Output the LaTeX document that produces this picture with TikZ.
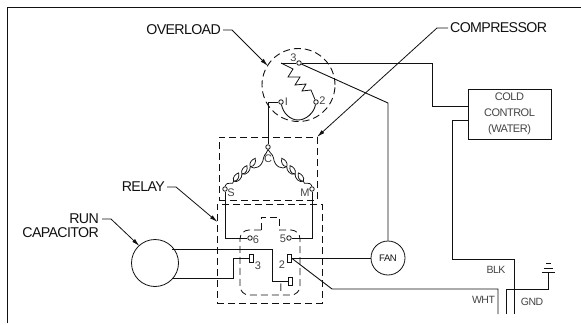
\documentclass[tikz,border=0pt]{standalone}
\usepackage{fontspec}
\setmainfont{Liberation Sans}[LetterSpace=-4.5]
\usetikzlibrary{arrows.meta,calc}
\definecolor{ink}{HTML}{111111}
\definecolor{soft}{HTML}{444444}
\tikzset{
  wire/.style={draw=ink,line width=0.9pt},
  coilwire/.style={draw=ink,line width=0.75pt},
  dash box/.style={draw=ink,line width=0.9pt,dash pattern=on 7pt off 4pt},
  leader/.style={draw=ink,line width=0.8pt,-{Latex[length=8pt,width=4pt]}},
  term/.style={circle,draw=ink,fill=white,line width=0.8pt,inner sep=0pt,minimum size=4.5pt},
  tab/.style={rectangle,draw=ink,fill=white,line width=0.8pt,inner sep=0pt,minimum width=4pt,minimum height=8pt},
  callout/.style={font=\fontsize{14.2}{15}\selectfont,text=ink,inner sep=0pt},
  small/.style={font=\fontsize{11}{12}\selectfont,text=soft,inner sep=0pt},
  tiny/.style={font=\fontsize{10.5}{11}\selectfont,text=soft,inner sep=0pt},
}
\begin{document}
\begin{tikzpicture}[x=1pt,y=-1pt]
\useasboundingbox (0,0) rectangle (581,324);
% frame
\coordinate (f1) at (7.5,323);\coordinate (f2) at (7.5,7.5);\coordinate (f3) at (581,7.5);
\draw[draw=ink,line width=1pt] (f1) -- (f2) -- (f3);
% dashed outlines
\node[circle,dash box,minimum size=73pt,inner sep=0pt] (ovl) at (298.5,85) {};
\node[rectangle,dash box,minimum width=98pt,minimum height=63pt,inner sep=0pt] (cmp) at (268,168.5) {};
\node[rectangle,dash box,minimum width=105pt,minimum height=99pt,inner sep=0pt] (rly) at (269.5,253.5) {};
\draw[dash box,line width=0.8pt,rounded corners=9pt] (261,230) -- (240,230) -- (240,295) -- (300,295) -- (300,230) -- (279,230);
\draw[dash box,line width=0.8pt] (261,230) -- (261,217) -- (279,217) -- (279,230);
% components
\node[rectangle,draw=ink,line width=0.9pt,minimum width=83pt,minimum height=50pt,inner sep=0pt,align=center,font=\fontsize{11}{16}\selectfont,text=soft] (cold) at (509.5,114) {COLD\\CONTROL\\(WATER)};
\node[circle,draw=ink,line width=0.8pt,minimum size=34pt,inner sep=0pt,font=\fontsize{9.5}{10}\selectfont,text=ink] (fan) at (388,258) {FAN};
\node[circle,draw=ink,line width=0.8pt,minimum size=47pt,inner sep=0pt] (cap) at (155,263) {};
% terminals
\node[term] (t3) at (299,63) {};
\node[term] (t2) at (316,102) {};
\node[term] (t1) at (281,102) {};
\node[term] (tc) at (268,147) {};
\node[term] (ts) at (225,189) {};
\node[term] (tm) at (312,189) {};
\node[term] (t6) at (250,238) {};
\node[term] (t5) at (289,238) {};
\node[tab] (r3) at (251,258) {};
\node[tab] (r2) at (289,258) {};
\node[tab] (r1) at (290,281) {};
% free ends
\coordinate (zs) at (281,63);
\coordinate (ck) at (432,63);
\coordinate (wj) at (548,289);
\coordinate (blk) at (514,314);
\coordinate (wht) at (498,314);
\coordinate (gnd) at (506,314);
\coordinate (gtop) at (548,272);
% overload wiring
\draw[wire] (zs) -- (t3) -- (ck) |- (cold.west |- 0,106);
\draw[wire] (t3) -- (388,103) -- (fan.north);
\draw[wire,line width=0.8pt] (zs) -- (293,69) -- (288,77) -- (300,77) -- (295,85) -- (306,84) -- (302,91) -- (311,90) -- (t2);
\draw[wire] (t1) .. controls (283,113) and (290,120) .. (298,120) .. controls (306,120) and (314,113) .. (t2);
\draw[wire] (t1) -- (268,102) -- (tc);
% windings
\foreach \sg/\en in {1/ts,-1/tm}{
  \draw[coilwire] (tc.south) .. controls ({268.5-\sg*0.5},153) and ({268.5-\sg*4},153) .. ({268.5-\sg*5},158) .. controls ({268.5-\sg*6},167) and ({268.5-\sg*14},170) .. ({268.5-\sg*18.3},166.7);
  \foreach \k in {0,1,2}{
    \pgfmathsetmacro{\dx}{18.3+8.3*\k}
    \pgfmathsetmacro{\by}{166.7+7.3*\k}
    \draw[coilwire] ({268.5-\sg*\dx},\by) .. controls ({268.5-\sg*(\dx-4.5)},{\by-0.2}) and ({268.5-\sg*(\dx-6)},{\by-4.56}) .. ({268.5-\sg*(\dx-5)},{\by-8.4}) .. controls ({268.5-\sg*(\dx-2)},{\by-7.24}) and ({268.5-\sg*(\dx+1.5)},{\by-4.2}) .. ({268.5-\sg*\dx},\by);
  }
  \foreach \k in {0,1}{
    \pgfmathsetmacro{\dx}{18.3+8.3*\k}
    \pgfmathsetmacro{\by}{166.7+7.3*\k}
    \draw[coilwire] ({268.5-\sg*\dx},\by) .. controls ({268.5-\sg*(\dx-0.5)},{\by+4}) and ({268.5-\sg*(\dx+4)},{\by+9}) .. ({268.5-\sg*(\dx+8.3)},{\by+7.3});
  }
  \draw[coilwire] ({268.5-\sg*34.9},181.3) .. controls ({268.5-\sg*35},186) and ({268.5-\sg*41},180) .. (\en.north);
}
% relay wiring
\draw[wire] (ts) |- (t6);
\draw[wire] (tm) |- (t5);
\draw[wire] (cap.north east |- 0,249) -- (272,249) |- (r1);
\draw[wire] (cap.south east |- 0,278) -- (233,278) |- (r3);
\draw[wire] (r2) -- (fan);
\draw[wire] (r2.east) -- (332,289) -- (498,289) -- (wht);
% supply
\draw[wire] (cold.west |- 0,120) -- (452,120) -- (452,259) -- (514,259) -- (blk);
\draw[wire] (gnd) -- (506,289) -- (wj) -- (gtop);
\coordinate (g1a) at (541.5,272);\coordinate (g1b) at (555,272);
\coordinate (g2a) at (544,268);\coordinate (g2b) at (553,268);
\coordinate (g3a) at (546,263.5);\coordinate (g3b) at (551,263.5);
\draw[wire] (g1a) -- (g1b);
\draw[wire,line width=0.7pt] (g2a) -- (g2b);
\draw[wire,line width=0.7pt] (g3a) -- (g3b);
% terminal labels
\node[small] (l3) at (293.5,58) {3};
\node[small] (l2) at (322.5,101) {2};
\node[small] (l1) at (286.5,102) {I};
\node[small] (lc) at (268,159) {C};
\node[small] (ls) at (231,193) {S};
\node[small] (lm) at (305,193) {M};
\node[small] (l6) at (256,240) {6};
\node[small] (l5) at (283,239) {5};
\node[small] (l33) at (258,266) {3};
\node[small] (l22) at (282,265) {2};
\node[small] (l11) at (281,288) {I};
\node[tiny] (lb) at (496,270) {BLK};
\node[tiny] (lw) at (483.5,300) {WHT};
\node[tiny] (lg) at (532,302) {GND};
% callouts
\node[callout,anchor=east] (ovt) at (221,30) {OVERLOAD};
\node[callout,anchor=west] (cot) at (450,28) {COMPRESSOR};
\node[callout,anchor=east] (ret) at (165,187) {RELAY};
\node[callout,anchor=east] (rut) at (99,219) {RUN};
\node[callout,anchor=east] (cat) at (99,233) {CAPACITOR};
\coordinate (ova) at (268,66);\coordinate (coa) at (317,137);\coordinate (rea) at (217.5,222);\coordinate (caa) at (139.5,246);
\draw[leader] (ovt.east) ++(2,0) -- ++(9,0) -- (ova);
\draw[leader] (cot.west) ++(-2,0) -- ++(-11,0) -- (coa);
\draw[leader] (ret.east) ++(2,0) -- ++(9,0) -- (rea);
\draw[leader] (rut.east) ++(3,0) -- ++(9,0) -- (caa);
\end{tikzpicture}
\end{document}
